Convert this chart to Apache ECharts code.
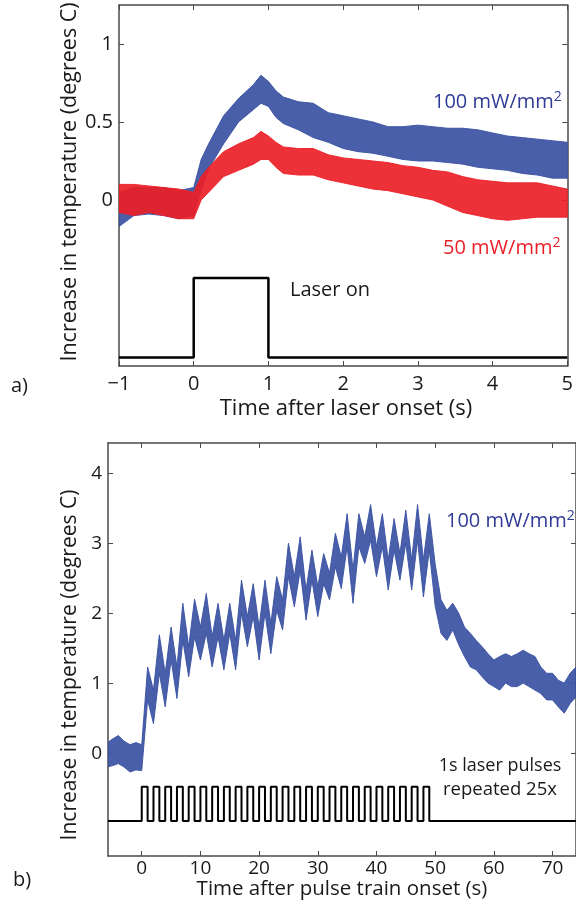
<!DOCTYPE html>
<html>
<head>
<meta charset="utf-8">
<script src="https://cdn.jsdelivr.net/npm/echarts@6/dist/echarts.min.js"></script>
<style>
  html, body { margin: 0; padding: 0; background: #fff; }
  #chart { width: 576px; height: 905px; }
</style>
</head>
<body>
<div id="chart"></div>
<script>
// ---- Panel a: temperature after a single 1 s laser pulse ----
const timeA = [-1, -0.8, -0.6, -0.4, -0.2, 0, 0.1, 0.2, 0.4, 0.6, 0.8, 0.9, 1, 1.1, 1.2, 1.4, 1.6, 1.8, 2, 2.2, 2.4, 2.6, 2.8, 3, 3.2, 3.4, 3.6, 3.8, 4, 4.2, 4.4, 4.6, 4.8, 5];
// 100 mW/mm2 trace: upper and lower edge of the noisy recording
const blueHiA = [0.05, 0.08, 0.08, 0.08, 0.06, 0.08, 0.26, 0.36, 0.54, 0.65, 0.74, 0.80, 0.76, 0.70, 0.66, 0.63, 0.62, 0.56, 0.54, 0.52, 0.50, 0.47, 0.47, 0.48, 0.47, 0.46, 0.46, 0.45, 0.43, 0.41, 0.40, 0.39, 0.38, 0.37];
const blueLoA = [-0.17, -0.10, -0.09, -0.10, -0.12, -0.10, 0.06, 0.20, 0.36, 0.50, 0.58, 0.62, 0.60, 0.53, 0.49, 0.45, 0.40, 0.37, 0.33, 0.31, 0.30, 0.28, 0.26, 0.25, 0.25, 0.24, 0.23, 0.21, 0.20, 0.19, 0.17, 0.16, 0.14, 0.14];
// 50 mW/mm2 trace
const redHiA = [0.10, 0.10, 0.09, 0.08, 0.07, 0.05, 0.15, 0.21, 0.31, 0.36, 0.40, 0.44, 0.41, 0.37, 0.34, 0.33, 0.33, 0.29, 0.27, 0.26, 0.25, 0.24, 0.22, 0.21, 0.19, 0.18, 0.15, 0.13, 0.12, 0.11, 0.11, 0.11, 0.09, 0.07];
const redLoA = [-0.08, -0.10, -0.08, -0.10, -0.12, -0.12, 0.00, 0.05, 0.15, 0.19, 0.23, 0.26, 0.26, 0.21, 0.17, 0.16, 0.16, 0.13, 0.11, 0.09, 0.07, 0.06, 0.04, 0.02, 0.00, -0.04, -0.08, -0.10, -0.12, -0.13, -0.12, -0.11, -0.11, -0.11];
// laser on/off trace
const pulseStartsA = [0];
const pulseLenA = 1;
const pulseLevelsA = [-1.01, -0.5];   // off, on
const xTicksA = [-1, 0, 1, 2, 3, 4, 5];
const yTicksA = [0, 0.5, 1];

// ---- Panel b: temperature during a train of 25 one-second pulses ----
const timeB = [-6, -5, -4, -3, -2, -1, 0, 1, 2, 3, 4, 5, 6, 7, 8, 9, 10, 11, 12, 13, 14, 15, 16, 17, 18, 19, 20, 21, 22, 23, 24, 25, 26, 27, 28, 29, 30, 31, 32, 33, 34, 35, 36, 37, 38, 39, 40, 41, 42, 43, 44, 45, 46, 47, 48, 49, 50, 51, 52, 53, 54, 55, 56, 57, 58, 59, 60, 61, 62, 63, 64, 65, 66, 67, 68, 69, 70, 71, 72, 73, 74];
const hiB = [0.14, 0.20, 0.25, 0.17, 0.12, 0.15, 0.12, 1.23, 0.90, 1.69, 1.14, 1.80, 1.23, 2.14, 1.52, 2.20, 1.80, 2.28, 1.66, 2.14, 1.61, 2.14, 1.61, 2.47, 1.95, 2.42, 1.80, 2.47, 1.85, 2.52, 2.19, 3.00, 2.52, 3.09, 2.33, 2.90, 2.38, 2.85, 2.57, 3.14, 2.80, 3.42, 2.62, 3.42, 3.09, 3.55, 2.95, 3.42, 2.76, 3.35, 2.85, 3.47, 2.76, 3.55, 2.76, 3.42, 2.70, 2.19, 2.04, 2.14, 2.00, 1.80, 1.71, 1.61, 1.52, 1.42, 1.33, 1.38, 1.42, 1.38, 1.42, 1.47, 1.42, 1.38, 1.23, 1.14, 1.14, 1.04, 1.00, 1.14, 1.23];
const loB = [-0.20, -0.18, -0.15, -0.20, -0.27, -0.24, -0.25, 0.76, 0.42, 1.14, 0.66, 1.33, 0.78, 1.61, 1.09, 1.66, 1.33, 1.71, 1.23, 1.66, 1.19, 1.71, 1.19, 2.00, 1.52, 1.95, 1.33, 2.00, 1.42, 2.04, 1.76, 2.52, 2.09, 2.61, 1.90, 2.47, 1.95, 2.42, 2.19, 2.66, 2.35, 2.95, 2.14, 2.95, 2.71, 3.04, 2.52, 2.95, 2.33, 2.90, 2.47, 3.00, 2.33, 3.04, 2.23, 2.90, 2.10, 1.71, 1.61, 1.76, 1.55, 1.38, 1.23, 1.19, 1.09, 1.00, 0.95, 0.90, 1.00, 0.95, 0.95, 1.00, 0.95, 0.90, 0.85, 0.76, 0.76, 0.66, 0.57, 0.71, 0.80];
const pulseStartsB = [0, 2, 4, 6, 8, 10, 12, 14, 16, 18, 20, 22, 24, 26, 28, 30, 32, 34, 36, 38, 40, 42, 44, 46, 48];
const pulseLenB = 1;
const pulseLevelsB = [-0.97, -0.48];
const xTicksB = [0, 10, 20, 30, 40, 50, 60, 70];
const yTicksB = [0, 1, 2, 3, 4];

// axis ranges
const rangeA = { xmin: -1, xmax: 5, ymin: -1.064, ymax: 1.25 };
const rangeB = { xmin: -5.75, xmax: 74, ymin: -1.47, ymax: 4.43 };

const FONT = "'Open Sans', 'Noto Sans', sans-serif";
const AXIS_COLOR = '#4a4a4a';
const TEXT = '#1a1a1a';
const BLUE = '#3951a3';
const BLUE_TEXT = '#2e3a94';
const RED = '#ec1f27';

const fmt = v => (v < 0 ? '\u2212' + Math.abs(v) : String(v));

function pulseTrace(starts, len, levels, xmin, xmax) {
  const pts = [[xmin, levels[0]]];
  starts.forEach(s => {
    pts.push([s, levels[0]], [s, levels[1]], [s + len, levels[1]], [s + len, levels[0]]);
  });
  pts.push([xmax, levels[0]]);
  return pts;
}

// filled band between the lower and upper edge of a noisy trace
function band(gi, t, hi, lo, color, z) {
  return {
    type: 'custom',
    xAxisIndex: gi * 2,
    yAxisIndex: gi * 2,
    clip: true,
    z: z,
    silent: true,
    data: t.map((x, i) => [x, lo[i], hi[i]]),
    encode: { x: 0, y: [1, 2] },
    renderItem: (params, api) => {
      if (params.dataIndex !== 0) return null;
      const pts = [];
      for (let i = 0; i < t.length; i++) pts.push(api.coord([t[i], hi[i]]));
      for (let i = t.length - 1; i >= 0; i--) pts.push(api.coord([t[i], lo[i]]));
      return {
        type: 'polygon',
        shape: { points: pts },
        style: { fill: color, stroke: color, lineWidth: 1, opacity: 0.92 }
      };
    }
  };
}

function xAxes(gi, r, ticks, margin, size) {
  const line = { show: true, onZero: false, lineStyle: { color: AXIS_COLOR, width: 1.5 } };
  const tick = { show: true, inside: true, length: 5, lineStyle: { color: AXIS_COLOR, width: 1 }, customValues: ticks };
  return [
    { type: 'value', gridIndex: gi, position: 'bottom', min: r.xmin, max: r.xmax,
      axisLine: line, axisTick: tick, splitLine: { show: false },
      axisLabel: { customValues: ticks, formatter: fmt, margin: margin, color: TEXT, fontSize: size, fontFamily: FONT } },
    { type: 'value', gridIndex: gi, position: 'top', min: r.xmin, max: r.xmax,
      axisLine: line, axisTick: tick, splitLine: { show: false }, axisLabel: { show: false } }
  ];
}

function yAxes(gi, r, ticks, size) {
  const line = { show: true, onZero: false, lineStyle: { color: AXIS_COLOR, width: 1.5 } };
  const tick = { show: true, inside: true, length: 5, lineStyle: { color: AXIS_COLOR, width: 1 }, customValues: ticks };
  return [
    { type: 'value', gridIndex: gi, position: 'left', min: r.ymin, max: r.ymax,
      axisLine: line, axisTick: tick, splitLine: { show: false },
      axisLabel: { customValues: ticks, formatter: fmt, margin: 6, color: TEXT, fontSize: size, fontFamily: FONT } },
    { type: 'value', gridIndex: gi, position: 'right', min: r.ymin, max: r.ymax,
      axisLine: line, axisTick: tick, splitLine: { show: false }, axisLabel: { show: false } }
  ];
}

function label(text, x, y, size, opts) {
  opts = opts || {};
  return {
    type: 'text', x: x, y: y, silent: true,
    rotation: opts.rotation || 0,
    style: {
      text: text, fill: opts.color || TEXT, font: size + 'px ' + FONT,
      textAlign: opts.align || 'left', textVerticalAlign: 'middle'
    }
  };
}

function powerLabel(value, x, y, color, size) {
  return {
    type: 'text', x: x, y: y, silent: true,
    style: {
      text: '{m|' + value + ' mW/mm}{s|2}',
      textAlign: 'left', textVerticalAlign: 'middle',
      rich: {
        m: { fontSize: size, fontFamily: FONT, fill: color, lineHeight: size + 4 },
        s: { fontSize: Math.round(size * 0.68), fontFamily: FONT, fill: color, lineHeight: Math.round(size * 0.68), verticalAlign: 'top' }
      }
    }
  };
}

const chart = echarts.init(document.getElementById('chart'), null, { renderer: 'canvas' });

chart.setOption({
  animation: false,
  backgroundColor: '#ffffff',
  grid: [
    { left: 119, top: 5, width: 454, height: 361 },
    { left: 108, top: 443, width: 469, height: 413 }
  ],
  xAxis: [].concat(xAxes(0, rangeA, xTicksA, 8, 20), xAxes(1, rangeB, xTicksB, 3, 19)),
  yAxis: [].concat(yAxes(0, rangeA, yTicksA, 20), yAxes(1, rangeB, yTicksB, 19)),
  series: [
    band(0, timeA, blueHiA, blueLoA, BLUE, 2),
    band(0, timeA, redHiA, redLoA, RED, 3),
    {
      type: 'line', xAxisIndex: 0, yAxisIndex: 0, showSymbol: false, silent: true,
      data: pulseTrace(pulseStartsA, pulseLenA, pulseLevelsA, rangeA.xmin, rangeA.xmax),
      lineStyle: { color: '#000', width: 2.5 }, z: 4
    },
    band(1, timeB, hiB, loB, BLUE, 2),
    {
      type: 'line', xAxisIndex: 2, yAxisIndex: 2, showSymbol: false, silent: true,
      data: pulseTrace(pulseStartsB, pulseLenB, pulseLevelsB, rangeB.xmin, rangeB.xmax),
      lineStyle: { color: '#000', width: 2 }, z: 4
    }
  ],
  graphic: [
    label('Increase in temperature (degrees C)', 70, 182, 21.5, { rotation: Math.PI / 2, align: 'center' }),
    label('Time after laser onset (s)', 346, 409, 22, { align: 'center' }),
    label('a)', 11, 386, 20),
    label('Laser on', 290, 290, 20),
    powerLabel(100, 433, 102, BLUE_TEXT, 20),
    powerLabel(50, 443, 248, RED, 20),

    label('Increase in temperature (degrees C)', 70, 665, 21, { rotation: Math.PI / 2, align: 'center' }),
    label('Time after pulse train onset (s)', 342, 889, 20.5, { align: 'center' }),
    label('b)', 13, 880, 20),
    powerLabel(100, 446, 521, BLUE_TEXT, 20),
    label('1s laser pulses', 500, 766, 18, { align: 'center' }),
    label('repeated 25x', 500, 790, 18.5, { align: 'center' })
  ]
});
</script>
</body>
</html>
